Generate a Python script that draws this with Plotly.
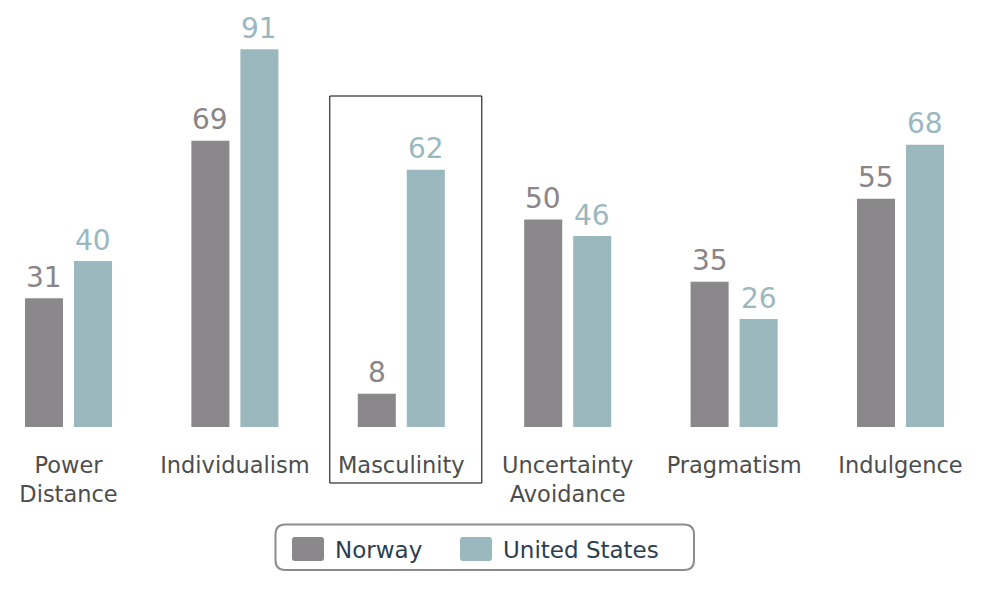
import plotly.graph_objects as go

categories = ["Power<br>Distance", "Individualism", "Masculinity", "Uncertainty<br>Avoidance", "Pragmatism", "Indulgence"]
series_names = ["Norway", "United States"]
norway = [31, 69, 8, 50, 35, 55]
united_states = [40, 91, 62, 46, 26, 68]
highlight_index = 2

bar_colors = ["#8b888b", "#9bb8bf"]
label_colors = ["#8a8588", "#9bb8c0"]

# page has an 8px body margin; work in page pixels and convert
OFF = 8
W, H = 987 - OFF, 594 - OFF
BASE_PAGE_Y = 427
PLOT_H = BASE_PAGE_Y - OFF
M_B = H - PLOT_H
PX_PER_UNIT = 4.15
CAT_SPACING = 166.4
FIRST_CENTER = 68.5 - OFF
BAR_SHIFT = 24.5

fig = go.Figure()
for name, vals, c in zip(series_names, [norway, united_states], bar_colors):
    fig.add_trace(go.Bar(
        x=list(range(len(categories))), y=vals, name=name,
        marker=dict(color=c, line=dict(width=0)),
        hoverinfo="skip", showlegend=False,
    ))

x_left = -FIRST_CENTER / CAT_SPACING
x_right = (W - FIRST_CENTER) / CAT_SPACING


def py(ypage):
    return (PLOT_H - (ypage - OFF)) / PLOT_H


def px(xpage):
    return (xpage - OFF) / W


annotations = []
for s, (vals, lc) in enumerate(zip([norway, united_states], label_colors)):
    for i, v in enumerate(vals):
        annotations.append(dict(xref="x", yref="y", x=i, y=v, xshift=(-1 if s == 0 else 1) * BAR_SHIFT,
                                yshift=2.5, xanchor="center", yanchor="bottom", text=str(v), showarrow=False,
                                font=dict(family="DejaVu Sans", size=28, color=lc)))

shapes = []
half = 76 / CAT_SPACING
shift = 4.5 / CAT_SPACING
shapes.append(dict(type="rect", xref="x", yref="paper",
                   x0=highlight_index - half + shift, x1=highlight_index + half + shift,
                   y0=py(483), y1=py(96),
                   line=dict(color="#000000", width=1), fillcolor="rgba(0,0,0,0)", layer="above"))


def rounded_rect(x0, y0, x1, y1, r):
    X = lambda v: f"{px(v):.5f}"
    Y = lambda v: f"{py(v):.5f}"
    return (f"M{X(x0 + r)},{Y(y0)} L{X(x1 - r)},{Y(y0)} Q{X(x1)},{Y(y0)} {X(x1)},{Y(y0 + r)} "
            f"L{X(x1)},{Y(y1 - r)} Q{X(x1)},{Y(y1)} {X(x1 - r)},{Y(y1)} "
            f"L{X(x0 + r)},{Y(y1)} Q{X(x0)},{Y(y1)} {X(x0)},{Y(y1 - r)} "
            f"L{X(x0)},{Y(y0 + r)} Q{X(x0)},{Y(y0)} {X(x0 + r)},{Y(y0)} Z")


shapes.append(dict(type="path", xref="paper", yref="paper", path=rounded_rect(275.5, 524.5, 694, 570, 10),
                   line=dict(color="#8c8c8c", width=2), fillcolor="rgba(255,255,255,0)", layer="above"))

legend_swatch_x = [292, 460]
for i, (name, c) in enumerate(zip(series_names, bar_colors)):
    sx = legend_swatch_x[i]
    shapes.append(dict(type="path", xref="paper", yref="paper", path=rounded_rect(sx, 537, sx + 32, 561, 3),
                       line=dict(width=0), fillcolor=c, layer="above"))
    annotations.append(dict(xref="paper", yref="paper", x=px(sx + 41), y=py(549.5), xanchor="left", yanchor="middle",
                            text=name, showarrow=False,
                            font=dict(family="DejaVu Sans", size=23, color="#2c3e50")))

fig.update_layout(
    width=W, height=H,
    margin=dict(l=0, r=0, t=0, b=M_B, pad=0),
    paper_bgcolor="white", plot_bgcolor="white",
    barmode="group", bargap=0.411, bargroupgap=0.224,
    xaxis=dict(range=[x_left, x_right], tickmode="array", tickvals=list(range(len(categories))),
               ticktext=categories, showgrid=False, zeroline=False, showline=False, ticks="",
               ticklabelstandoff=22,
               tickfont=dict(family="DejaVu Sans", size=22.5, color="#4d4d4d")),
    yaxis=dict(range=[0, PLOT_H / PX_PER_UNIT], visible=False, showgrid=False, zeroline=False),
    shapes=shapes, annotations=annotations, showlegend=False,
)

fig.write_html("out.html")
